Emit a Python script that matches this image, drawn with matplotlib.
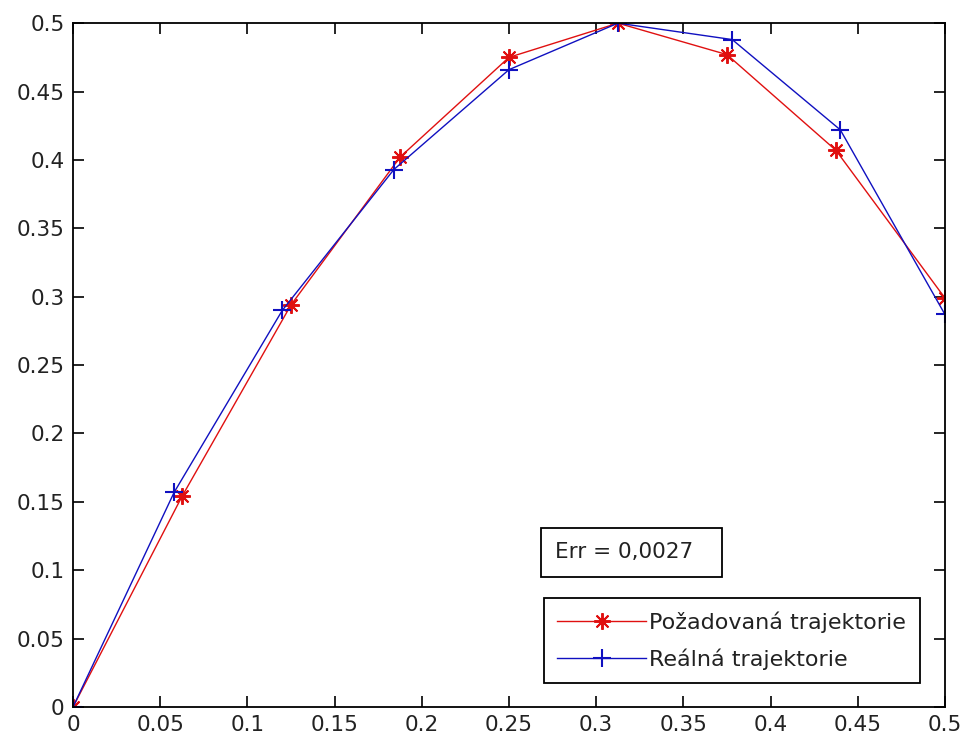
import numpy as np
import matplotlib.pyplot as plt
from matplotlib.patches import Rectangle

plt.rcParams['font.family'] = ['DejaVu Sans']
plt.rcParams.update({'font.size': 15.5})

# desired trajectory (red, *)
x_des = [0, 0.0625, 0.125, 0.1875, 0.25, 0.3125, 0.375, 0.4375, 0.5]
y_des = [0, 0.154, 0.294, 0.402, 0.475, 0.500, 0.477, 0.407, 0.299]

# real trajectory (blue, +)
x_real = [0, 0.058, 0.120, 0.184, 0.250, 0.3125, 0.378, 0.440, 0.5]
y_real = [0, 0.157, 0.290, 0.393, 0.466, 0.500, 0.488, 0.422, 0.287]

labels = ['Požadovaná trajektorie', 'Reálná trajektorie']
tick_labels = ['0', '0.05', '0.1', '0.15', '0.2', '0.25', '0.3', '0.35', '0.4', '0.45', '0.5']
err_text = 'Err = 0,0027'

fig = plt.figure(figsize=(9.67, 7.47), dpi=100)
ax = fig.add_axes([0.0755, 0.0535, 0.9017, 0.9155])

# matlab-like asterisk marker: 8 spokes
ax.plot(x_des, y_des, color='#e01010', marker=(8, 2, 0), markersize=12,
        markeredgewidth=1.4, linewidth=1.0, label=labels[0])
ax.plot(x_real, y_real, color='#1010c0', marker='+', markersize=13,
        markeredgewidth=1.5, linewidth=1.0, label=labels[1])

ax.set_xlim(0, 0.5)
ax.set_ylim(0, 0.5)
ticks = np.arange(0, 0.501, 0.05)
ax.set_xticks(ticks)
ax.set_yticks(ticks)
ax.set_xticklabels(tick_labels)
ax.set_yticklabels(tick_labels)
ax.tick_params(direction='in', length=8, width=1.2, top=True, right=True, pad=6,
               labelcolor='#222222')
for s in ax.spines.values():
    s.set_linewidth(1.3)

leg = ax.legend(loc='lower right', bbox_to_anchor=(0.971, 0.035), borderaxespad=0,
                fancybox=False, edgecolor='black', framealpha=1,
                handlelength=4.0, handletextpad=0.15, labelspacing=0.7,
                borderpad=0.6, fontsize=16)
leg.get_frame().set_linewidth(1.3)
for t in leg.get_texts():
    t.set_color('#222222')

# text box with error value
ax.add_patch(Rectangle((0.537, 0.19), 0.207, 0.072, transform=ax.transAxes,
                       fill=False, edgecolor='black', linewidth=1.3))
ax.text(0.553, 0.226, err_text, transform=ax.transAxes, ha='left', va='center',
        fontsize=15.5, color='#222222')

fig.savefig('out.png', dpi=100)
